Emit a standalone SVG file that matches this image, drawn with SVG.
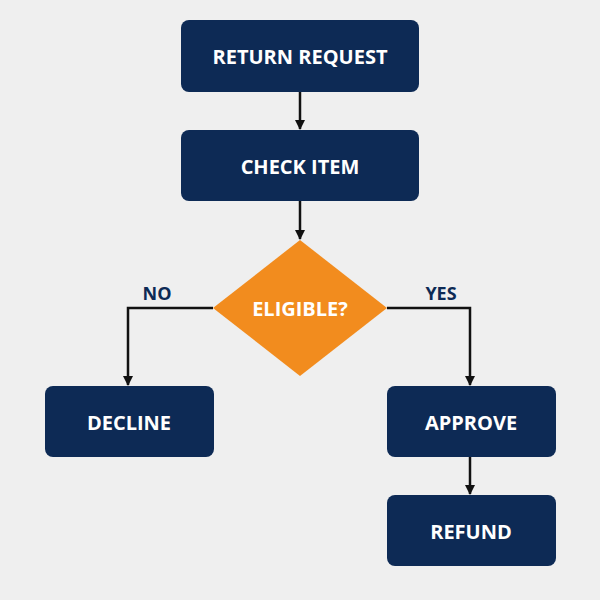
<svg xmlns="http://www.w3.org/2000/svg" width="600" height="600" viewBox="0 0 600 600">
<style>
.box{fill:#0d2a55;}
.t{font-family:"Open Sans","Liberation Sans",sans-serif;font-weight:bold;font-size:20px;fill:#ffffff;text-anchor:middle;dominant-baseline:central;}
.lbl{font-family:"Open Sans","Liberation Sans",sans-serif;font-weight:bold;font-size:18px;fill:#0d2a55;text-anchor:middle;dominant-baseline:central;}
.c{stroke:#111;stroke-width:2.5;fill:none;marker-end:url(#a);}
</style>
<defs><marker id="a" markerWidth="10" markerHeight="10" refX="9" refY="5" orient="auto" markerUnits="userSpaceOnUse"><path d="M0,0 L10,5 L0,10 Z" fill="#111"/></marker></defs>
<rect width="600" height="600" fill="#efefef"/>
<g id="connectors">
<path class="c" d="M300,92 V129"/>
<path class="c" d="M300,201 V239"/>
<path class="c" d="M213,308 H128 V385"/>
<path class="c" d="M387,308 H470 V385"/>
<path class="c" d="M470,457 V494"/>
<text class="lbl" x="157" y="293">NO</text>
<text class="lbl" x="441" y="293">YES</text>
</g>
<g id="n1"><rect class="box" x="181" y="20" width="238" height="72" rx="8"/><text class="t" x="300" y="56">RETURN REQUEST</text></g>
<g id="n2"><rect class="box" x="181" y="130" width="238" height="71" rx="8"/><text class="t" x="300" y="166">CHECK ITEM</text></g>
<g id="n3"><polygon points="300,240 387,308 300,376 213,308" fill="#f28c1e"/><text class="t" x="300" y="308">ELIGIBLE?</text></g>
<g id="n4"><rect class="box" x="45" y="386" width="169" height="71" rx="8"/><text class="t" x="129" y="422">DECLINE</text></g>
<g id="n5"><rect class="box" x="387" y="386" width="169" height="71" rx="8"/><text class="t" x="471" y="422">APPROVE</text></g>
<g id="n6"><rect class="box" x="387" y="495" width="169" height="71" rx="8"/><text class="t" x="471" y="531">REFUND</text></g>
</svg>
